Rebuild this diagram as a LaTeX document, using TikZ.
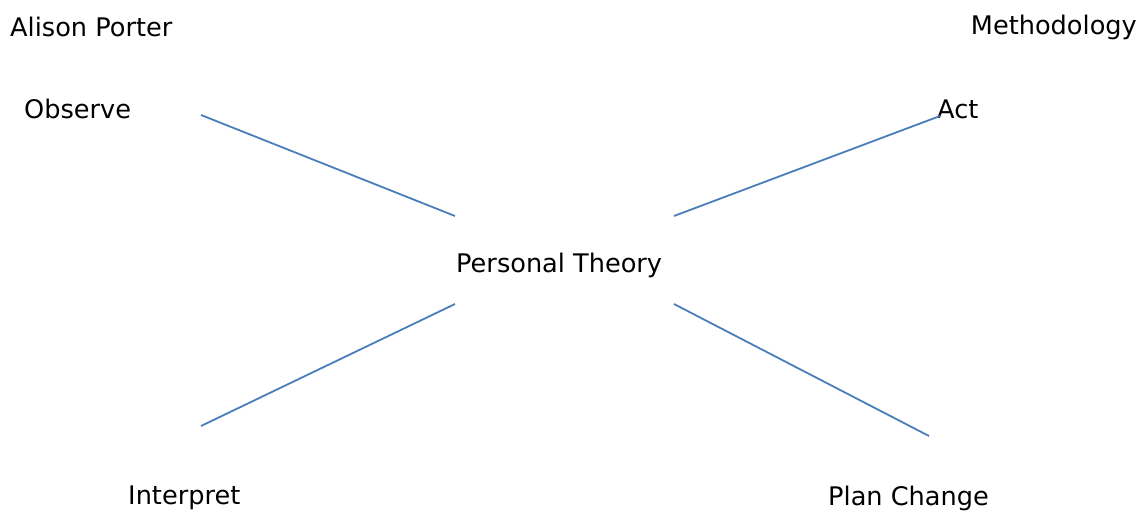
\documentclass[tikz,border=0pt]{standalone}
\usepackage{fontspec}
\setmainfont{DejaVu Sans}
\definecolor{linkblue}{HTML}{4A7EBB}
\begin{document}
\begin{tikzpicture}[x=1pt,y=-1pt,
  lbl/.style={inner sep=0pt,font=\fontsize{25.6}{30}\selectfont,text=black},
  link/.style={draw=linkblue,line width=1.8pt}]
\useasboundingbox (0,0) rectangle (1141,511);
\node[lbl,anchor=west] (author) at (10,27) {Alison Porter};
\node[lbl,anchor=east] (method) at (1137,27) {Methodology};
\node[lbl,anchor=west] (obs) at (24,109) {Observe};
\node[lbl,anchor=west] (act) at (937,109) {Act};
\node[lbl,anchor=west] (theory) at (456,265) {Personal Theory};
\node[lbl,anchor=west] (interp) at (128,498) {Interpret};
\node[lbl,anchor=west] (plan) at (828,498) {Plan Change};
\coordinate (a1) at (201,115); \coordinate (a2) at (455,216);
\coordinate (b1) at (674,216); \coordinate (b2) at (940,116);
\coordinate (c1) at (455,304); \coordinate (c2) at (201,426);
\coordinate (d1) at (674,304); \coordinate (d2) at (929,436);
\draw[link] (a1) -- (a2);
\draw[link] (b1) -- (b2);
\draw[link] (c1) -- (c2);
\draw[link] (d1) -- (d2);
\end{tikzpicture}
\end{document}
